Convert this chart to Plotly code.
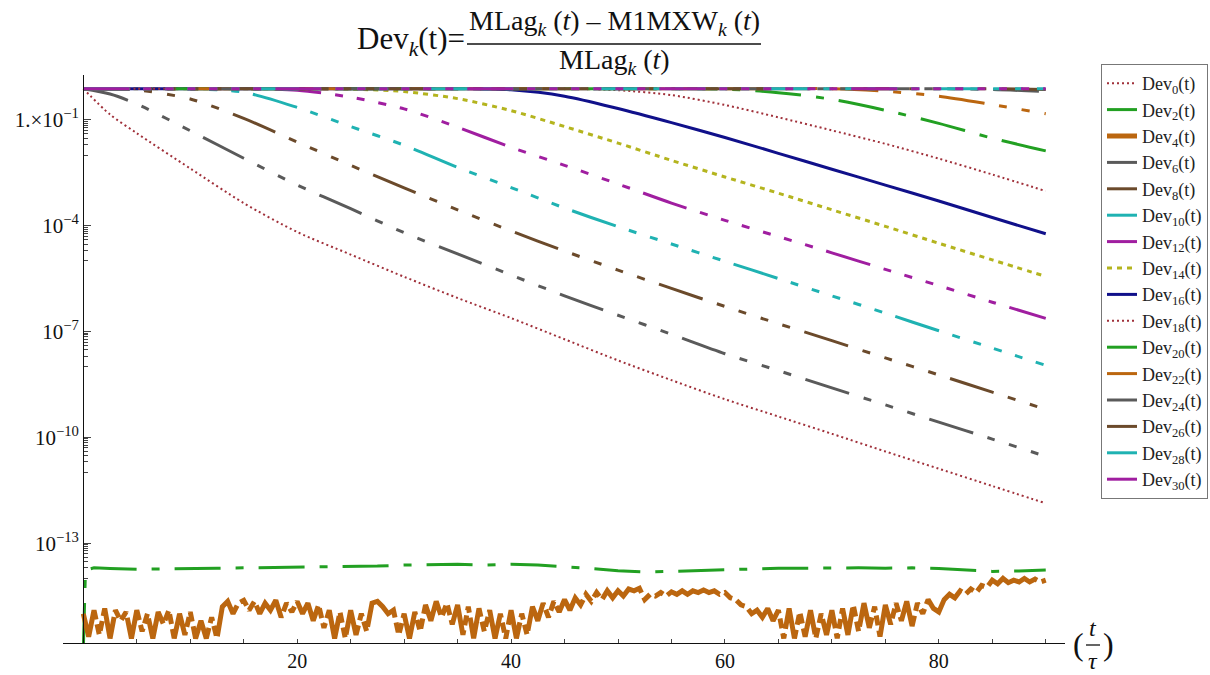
import plotly.graph_objects as go

# ---------------- data (log10 of Dev_k(t)) ----------------
T = [0, 2.5, 5, 10, 15, 20, 25, 30, 35, 40, 45, 50, 55, 60, 65, 70, 75, 80, 85, 90]

LOG_DEV0 = [-0.12, -0.85, -1.38, -2.38, -3.36, -4.18, -4.82, -5.45, -6.05, -6.62,
            -7.22, -7.82, -8.38, -8.92, -9.41, -9.90, -10.40, -10.89, -11.38, -11.87]
LOG_DEV6 = [-0.12, -0.27, -0.55, -1.31, -2.09, -2.85, -3.52, -4.20, -4.80, -5.40,
            -5.99, -6.54, -7.08, -7.63, -8.11, -8.60, -9.08, -9.57, -10.05, -10.54]
LOG_DEV8 = [-0.12, -0.12, -0.15, -0.41, -0.96, -1.63, -2.29, -2.93, -3.55, -4.15,
            -4.72, -5.26, -5.78, -6.29, -6.78, -7.26, -7.75, -8.23, -8.72, -9.21]
LOG_DEV10 = [-0.12, -0.12, -0.12, -0.12, -0.22, -0.65, -1.19, -1.72, -2.35, -2.92,
             -3.50, -4.03, -4.52, -5.01, -5.50, -5.99, -6.48, -6.98, -7.47, -7.96]
LOG_DEV12 = [-0.12, -0.12, -0.12, -0.12, -0.12, -0.16, -0.36, -0.69, -1.21, -1.78,
             -2.29, -2.82, -3.36, -3.85, -4.31, -4.77, -5.24, -5.70, -6.17, -6.63]
LOG_DEV14 = [-0.12, -0.12, -0.12, -0.12, -0.12, -0.12, -0.13, -0.20, -0.40, -0.74,
             -1.19, -1.66, -2.15, -2.62, -3.08, -3.55, -4.02, -4.50, -4.97, -5.44]
LOG_DEV16 = [-0.12, -0.12, -0.12, -0.12, -0.12, -0.12, -0.12, -0.12, -0.12, -0.15,
             -0.33, -0.68, -1.08, -1.50, -1.95, -2.40, -2.85, -3.30, -3.77, -4.23]
LOG_DEV18 = [-0.12, -0.12, -0.12, -0.12, -0.12, -0.12, -0.12, -0.12, -0.12, -0.12,
             -0.12, -0.16, -0.30, -0.58, -0.93, -1.30, -1.68, -2.10, -2.55, -3.02]
LOG_DEV20 = [-0.12, -0.12, -0.12, -0.12, -0.12, -0.12, -0.12, -0.12, -0.12, -0.12,
             -0.12, -0.12, -0.12, -0.13, -0.23, -0.42, -0.73, -1.10, -1.52, -1.88]
LOG_DEV22 = [-0.12, -0.12, -0.12, -0.12, -0.12, -0.12, -0.12, -0.12, -0.12, -0.12,
             -0.12, -0.12, -0.12, -0.12, -0.12, -0.12, -0.19, -0.33, -0.57, -0.83]
LOG_DEV24 = [-0.12, -0.12, -0.12, -0.12, -0.12, -0.12, -0.12, -0.12, -0.12, -0.12,
             -0.12, -0.12, -0.12, -0.12, -0.12, -0.12, -0.12, -0.12, -0.14, -0.20]
LOG_DEV26 = [-0.12, -0.12, -0.12, -0.12, -0.12, -0.12, -0.12, -0.12, -0.12, -0.12,
             -0.12, -0.12, -0.12, -0.12, -0.12, -0.12, -0.12, -0.12, -0.12, -0.14]
LOG_DEV28 = [-0.12, -0.12, -0.12, -0.12, -0.12, -0.12, -0.12, -0.12, -0.12, -0.12,
             -0.12, -0.12, -0.12, -0.12, -0.12, -0.12, -0.12, -0.12, -0.12, -0.12]
LOG_DEV30 = [-0.12, -0.12, -0.12, -0.12, -0.12, -0.12, -0.12, -0.12, -0.12, -0.12,
             -0.12, -0.12, -0.12, -0.12, -0.12, -0.12, -0.12, -0.12, -0.12, -0.12]

# Dev2: round-off level (green)
T_DEV2 = [0, 0.2, 0.5, 1, 2.5, 5, 7.5, 10, 12.5, 15, 17.5, 20, 22.5, 25, 27.5, 30, 32.5,
          35, 37.5, 40, 42.5, 45, 47.5, 50, 52.5, 55, 57.5, 60, 62.5, 65, 67.5, 70,
          72.5, 75, 77.5, 80, 82.5, 85, 87.5, 90]
LOG_DEV2 = [-16.0, -13.78, -13.74, -13.70, -13.72, -13.74, -13.73, -13.71, -13.71, -13.70,
            -13.69, -13.68, -13.68, -13.66, -13.65, -13.62, -13.60, -13.60, -13.62, -13.60,
            -13.62, -13.66, -13.72, -13.78, -13.82, -13.80, -13.78, -13.74, -13.72, -13.71,
            -13.71, -13.70, -13.70, -13.71, -13.70, -13.72, -13.76, -13.80, -13.79, -13.76]

# Dev4: round-off level (orange), sampled every 0.5
T_DEV4 = [i * 0.5 for i in range(181)]
LOG_DEV4 = [
    -15.00, -15.65, -14.90, -15.60, -14.85, -15.70, -14.90, -15.20, -14.95, -15.70,
    -14.90, -15.50, -15.00, -15.70, -14.95, -15.30, -14.90, -15.70, -15.00, -15.60,
    -14.95, -15.70, -15.20, -15.70, -15.10, -15.70, -14.80, -14.65, -15.00, -14.70,
    -14.62, -14.90, -14.65, -15.00, -14.70, -14.90, -14.62, -15.10, -14.70, -14.95,
    -14.65, -15.00, -14.70, -15.20, -14.75, -15.40, -14.90, -15.70, -14.95, -15.70,
    -14.90, -15.60, -15.00, -15.50, -14.70, -14.65, -14.80, -15.00, -14.90, -15.60,
    -15.00, -15.70, -14.95, -15.50, -14.75, -15.20, -14.65, -15.10, -14.70, -15.30,
    -14.75, -15.60, -14.80, -15.70, -14.85, -15.50, -14.90, -15.70, -15.00, -15.70,
    -14.90, -15.70, -15.00, -15.60, -14.80, -15.20, -14.70, -15.10, -14.65, -14.95,
    -14.60, -14.90, -14.55, -14.75, -14.45, -14.65, -14.40, -14.60, -14.35, -14.55,
    -14.35, -14.50, -14.30, -14.35, -14.28, -14.60, -14.45, -14.50, -14.40, -14.50,
    -14.38, -14.45, -14.35, -14.45, -14.35, -14.40, -14.33, -14.40, -14.35, -14.45,
    -14.40, -14.55, -14.60, -14.75, -14.80, -15.00, -14.90, -15.10, -14.85, -15.20,
    -14.90, -15.70, -14.85, -15.70, -14.95, -15.65, -14.90, -15.70, -15.00, -15.60,
    -14.90, -15.70, -14.85, -15.60, -14.75, -15.50, -14.70, -15.40, -14.80, -15.65,
    -14.75, -15.30, -14.70, -15.20, -14.65, -15.35, -14.70, -15.00, -14.60, -14.85,
    -14.95, -14.60, -14.45, -14.55, -14.35, -14.45, -14.30, -14.40, -14.20, -14.25,
    -14.05, -14.15, -14.00, -14.12, -14.05, -14.10, -14.00, -14.10, -14.02, -14.10,
    -14.05]

SERIES = [
    ("0", T, LOG_DEV0), ("2", T_DEV2, LOG_DEV2), ("4", T_DEV4, LOG_DEV4),
    ("6", T, LOG_DEV6), ("8", T, LOG_DEV8), ("10", T, LOG_DEV10), ("12", T, LOG_DEV12),
    ("14", T, LOG_DEV14), ("16", T, LOG_DEV16), ("18", T, LOG_DEV18), ("20", T, LOG_DEV20),
    ("22", T, LOG_DEV22), ("24", T, LOG_DEV24), ("26", T, LOG_DEV26), ("28", T, LOG_DEV28),
    ("30", T, LOG_DEV30),
]

Y_TICK_EXP = [-1, -4, -7, -10, -13]
Y_TICK_TEXT = ["1.\u00d710<sup>\u22121</sup>", "10<sup>\u22124</sup>", "10<sup>\u22127</sup>",
               "10<sup>\u221210</sup>", "10<sup>\u221213</sup>"]
X_TICKS = [20, 40, 60, 80]

# ---------------- styles ----------------
RED, GREEN, ORANGE, GRAY = "#a0303a", "#22a022", "#bb660f", "#5a5a5a"
BROWN, CYAN, MAGENTA, YELLOW, BLUE = "#6b4a2b", "#1fb2b2", "#a01ea0", "#b4b41e", "#10108a"

def longshort(n_short, long_len=46, gap=15, short_len=8):
    parts = [f"{long_len}px"]
    for _ in range(n_short):
        parts += [f"{gap}px", f"{short_len}px"]
    parts.append(f"{gap}px")
    return ",".join(parts)

STYLE = {
    "0": (RED, "2px,3px", 2),
    "2": (GREEN, longshort(1), 3),
    "4": (ORANGE, longshort(2, long_len=60, gap=5, short_len=10), 5),
    "6": (GRAY, longshort(3), 3),
    "8": (BROWN, longshort(4), 3),
    "10": (CYAN, longshort(5, gap=14), 3),
    "12": (MAGENTA, longshort(6, gap=14), 3),
    "14": (YELLOW, "5px,5px", 3),
    "16": (BLUE, "solid", 3),
    "18": (RED, "2px,3px", 2),
    "20": (GREEN, longshort(1), 3),
    "22": (ORANGE, longshort(2), 3),
    "24": (GRAY, longshort(3), 3),
    "26": (BROWN, longshort(4), 3),
    "28": (CYAN, longshort(5, gap=14), 3),
    "30": (MAGENTA, longshort(6, gap=14), 3),
}

FONT = "Liberation Serif, Times New Roman, serif"

fig = go.Figure()
for k, ts, logs in SERIES:
    color, dash, width = STYLE[k]
    noisy = k in ("2", "4")
    line = dict(color=color, dash=dash, width=width,
                shape="linear" if noisy else "spline")
    if not noisy:
        line["smoothing"] = 0.8
    fig.add_trace(go.Scatter(
        x=ts, y=[10 ** v for v in logs], mode="lines",
        name=f"Dev<sub>{k}</sub>(t)", line=line,
    ))

# ---------------- layout ----------------
L, R, TOP, BOT = 63, 1065, 75, 643
def px(xp):
    return (xp - L) / (R - L)
def py(yp):
    return (BOT - yp) / (BOT - TOP)

X_RANGE = [-1.9, 91.8]
y_minor = [m * 10.0 ** (e - 1) for e in Y_TICK_EXP for m in range(1, 10)]

fig.update_layout(
    width=1210, height=675,
    margin=dict(l=L, r=1210 - R, t=TOP, b=675 - BOT, pad=0, autoexpand=False),
    paper_bgcolor="white", plot_bgcolor="white",
    font=dict(family=FONT, color="#111", size=16),
    showlegend=True,
    legend=dict(x=px(1101), y=py(64), xanchor="left", yanchor="top",
                bgcolor="white", bordercolor="#777", borderwidth=1,
                font=dict(family=FONT, size=18, color="#222"),
                itemwidth=30, tracegroupgap=0, maxheight=640),
    xaxis=dict(range=X_RANGE, showgrid=False, zeroline=False, showline=True,
               linecolor="#111", linewidth=1.3, ticks="inside", ticklen=4,
               tickcolor="#444", tickmode="array", tickvals=X_TICKS,
               ticktext=[str(v) for v in X_TICKS],
               tickfont=dict(family=FONT, size=20, color="#111"),
               minor=dict(tickmode="array", tickvals=[v for v in range(5, 91, 5)],
                          ticks="inside", ticklen=4, tickcolor="#444")),
    yaxis=dict(type="log", range=[-15.83, 0.27], showgrid=False, zeroline=False,
               showline=True, linecolor="#111", linewidth=1.3,
               anchor="free", position=px(83.3),
               ticks="inside", ticklen=7, tickcolor="#444",
               tickmode="array", tickvals=[10.0 ** e for e in Y_TICK_EXP],
               ticktext=Y_TICK_TEXT,
               tickfont=dict(family=FONT, size=21, color="#111"),
               minor=dict(tickmode="array", tickvals=y_minor, ticks="inside",
                          ticklen=4, tickcolor="#444")),
)

ann = []
# title: Dev_k(t) = (MLag_k(t) - M1MXW_k(t)) / MLag_k(t)
ann.append(dict(x=px(467), y=py(41), xref="paper", yref="paper", xanchor="right",
                yanchor="middle", showarrow=False,
                text="Dev<sub><i>k</i></sub>(t)=", font=dict(family=FONT, size=31, color="#111")))
ann.append(dict(x=px(614), y=py(23), xref="paper", yref="paper", xanchor="center",
                yanchor="middle", showarrow=False,
                text="MLag<sub><i>k</i></sub> (<i>t</i>) \u2013 M1MXW<sub><i>k</i></sub> (<i>t</i>)",
                font=dict(family=FONT, size=28, color="#111")))
ann.append(dict(x=px(614), y=py(62), xref="paper", yref="paper", xanchor="center",
                yanchor="middle", showarrow=False,
                text="MLag<sub><i>k</i></sub> (<i>t</i>)",
                font=dict(family=FONT, size=28, color="#111")))
# x-axis label (t / tau)
ann.append(dict(x=px(1078), y=py(644), xref="paper", yref="paper", xanchor="center",
                yanchor="middle", showarrow=False, text="(",
                font=dict(family=FONT, size=32, color="#111")))
ann.append(dict(x=px(1108), y=py(644), xref="paper", yref="paper", xanchor="center",
                yanchor="middle", showarrow=False, text=")",
                font=dict(family=FONT, size=32, color="#111")))
ann.append(dict(x=px(1093), y=py(628), xref="paper", yref="paper", xanchor="center",
                yanchor="middle", showarrow=False, text="<i>t</i>",
                font=dict(family=FONT, size=24, color="#111")))
ann.append(dict(x=px(1093), y=py(661), xref="paper", yref="paper", xanchor="center",
                yanchor="middle", showarrow=False, text="<i>\u03c4</i>",
                font=dict(family=FONT, size=24, color="#111")))
fig.update_layout(annotations=ann)

fig.update_layout(shapes=[
    dict(type="line", xref="paper", yref="paper", x0=px(467), x1=px(761),
         y0=py(44), y1=py(44), line=dict(color="#111", width=1.5)),
    dict(type="line", xref="paper", yref="paper", x0=px(1086), x1=px(1100),
         y0=py(645), y1=py(645), line=dict(color="#111", width=1.3)),
])

fig.write_html("out.html")
